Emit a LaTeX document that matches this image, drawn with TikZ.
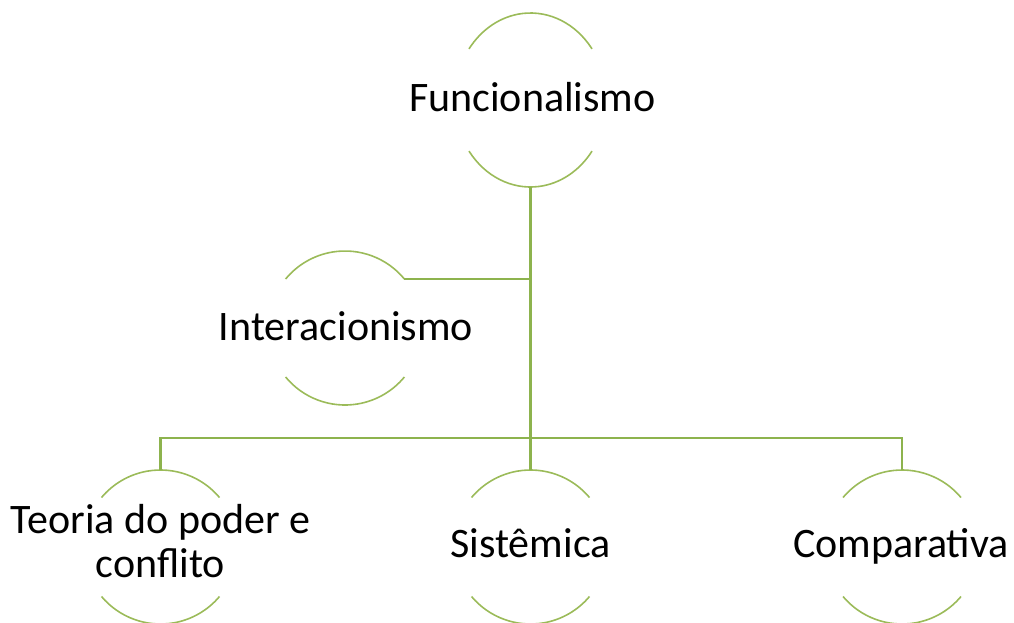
\documentclass[tikz,border=0pt]{standalone}
\usepackage{fontspec}
\setmainfont{Carlito}
\usetikzlibrary{shapes.geometric,calc}
\definecolor{arcgreen}{HTML}{9BBB59}
\definecolor{linegreen}{HTML}{8DB34E}
\tikzset{
  x=1pt,y=1pt,
  shapebox/.style={ellipse,inner sep=0pt,outer sep=0pt},
  lbl/.style={anchor=base,inner sep=0pt,font=\fontsize{42}{44}\selectfont,text=black,align=center},
  arcline/.style={draw=arcgreen,line width=1.6pt},
  conn/.style={draw=linegreen,line width=2.2pt},
  mainconn/.style={draw=linegreen,line width=3pt}
}
\newcommand\sidearcs[4]{% node, angle, rx, ry
  \draw[arcline] ([shift={(#2:#3 and #4)}]#1.center) arc[start angle=#2,end angle=180-#2,x radius=#3,y radius=#4];
  \draw[arcline] ([shift={(180+#2:#3 and #4)}]#1.center) arc[start angle=180+#2,end angle=360-#2,x radius=#3,y radius=#4];
}
\begin{document}
\begin{tikzpicture}
\useasboundingbox (0,0) rectangle (1014,-622);
% shapes
\node[shapebox,minimum width=152pt,minimum height=174pt] (f) at (530.5,-100) {};
\node[shapebox,minimum width=154pt,minimum height=154pt] (i) at (345,-328) {};
\node[shapebox,minimum width=154pt,minimum height=154pt] (t) at (160.5,-547) {};
\node[shapebox,minimum width=154pt,minimum height=154pt] (s) at (530.5,-547) {};
\node[shapebox,minimum width=154pt,minimum height=154pt] (c) at (902,-547) {};
\sidearcs{f}{36}{76pt}{87pt}
\sidearcs{i}{39.5}{77pt}{77pt}
\sidearcs{t}{40}{77pt}{77pt}
\sidearcs{s}{40}{77pt}{77pt}
\sidearcs{c}{40}{77pt}{77pt}
% texts
\node[lbl] (ft) at (532.5,-111) {Funcionalismo};
\node[lbl] (it) at (346,-340) {Interacionismo};
\node[lbl] (tt) at (160.5,-577) {Teoria do poder e\\conflito};
\node[lbl] (st) at (530.5,-557) {Sistêmica};
\node[lbl] (ct) at (901,-557) {Comparativa};
% connectors
\coordinate (hub) at (530.5,-438);
\coordinate (iend) at ([shift={(39.5:77pt)}]i.center);
\draw[mainconn] (f.south) -- (hub);
\draw[conn] (iend) -- (iend -| hub);
\draw[conn] (t.north) -- (t.north |- hub) -- (c.north |- hub) -- (c.north);
\draw[conn] (hub) -- (s.north);
\end{tikzpicture}
\end{document}
